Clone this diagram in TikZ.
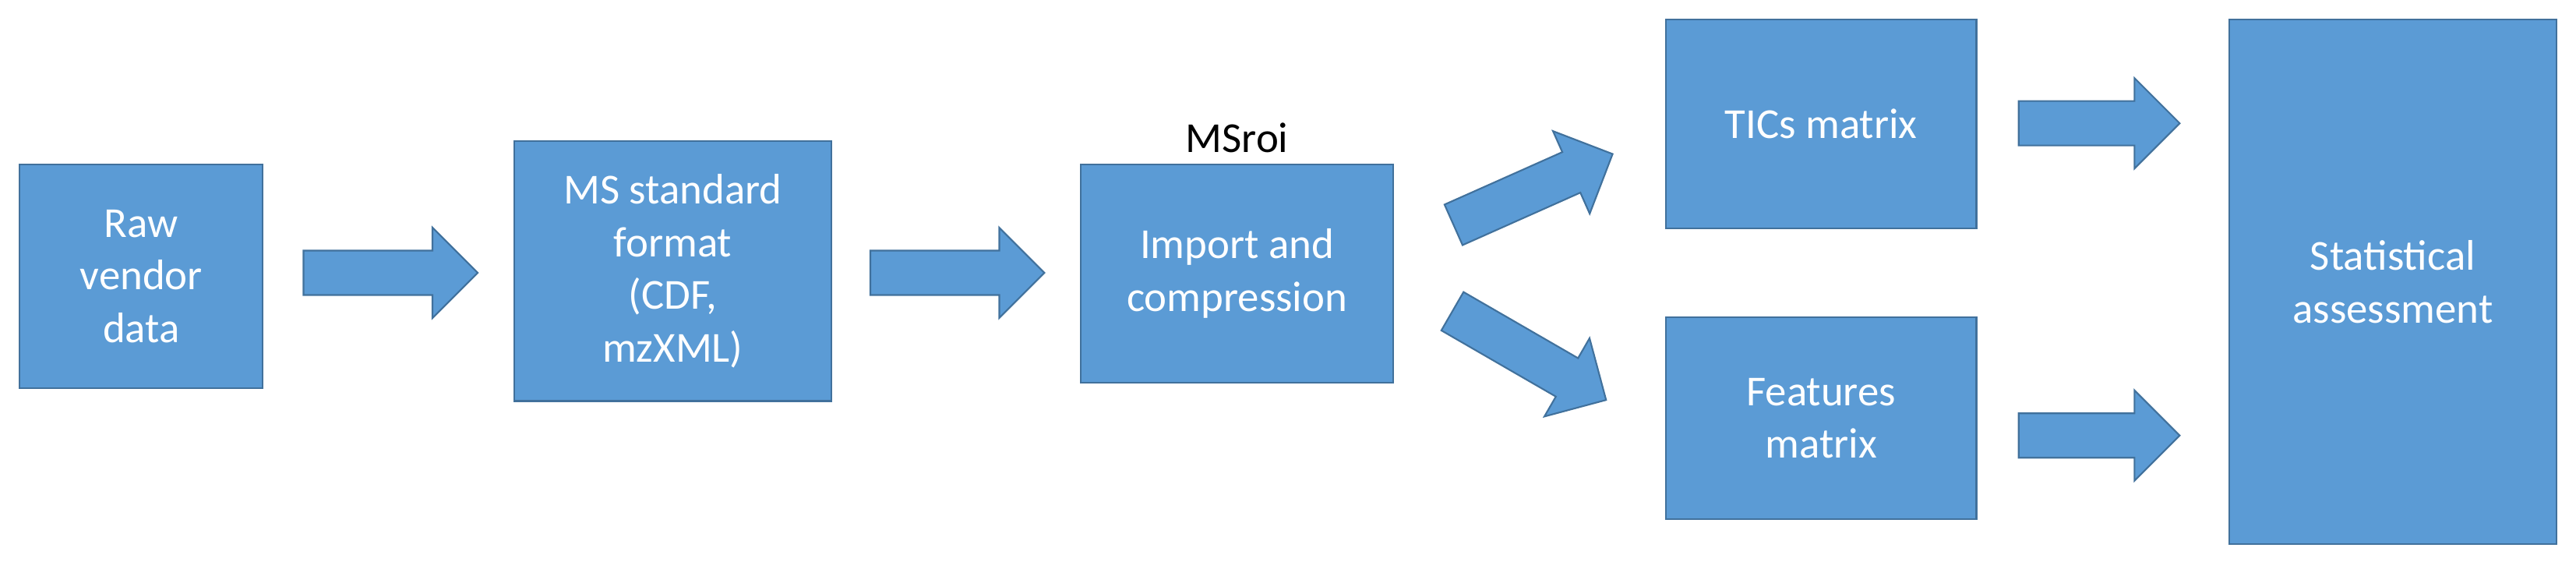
\documentclass[tikz,border=0pt]{standalone}
\usepackage{fontspec}
\setmainfont{Carlito}
\usetikzlibrary{shapes.arrows}
\definecolor{boxfill}{HTML}{5B9BD5}
\definecolor{boxline}{HTML}{41719C}
\tikzset{
  stage/.style={draw=boxline, fill=boxfill, line width=1pt, text=white, align=center,
    font=\fontsize{26}{32}\selectfont, inner sep=0pt},
  flow/.style={single arrow, draw=boxline, fill=boxfill, line width=1pt,
    inner xsep=0pt, inner ysep=13pt, single arrow head extend=14pt,
    single arrow head indent=0pt}
}
\begin{document}
\begin{tikzpicture}[x=1pt, y=-1pt]
\useasboundingbox (0,0) rectangle (1568,346);

\node[stage, minimum width=148, minimum height=136] (raw) at (86,168) {Raw\\vendor\\data};
\node[stage, minimum width=193, minimum height=158] (std) at (409.5,165) {MS standard\\format\\(CDF,\\mzXML)};
\node[stage, minimum width=190, minimum height=133] (imp) at (753,166.5) {Import and\\compression};
\node[font=\fontsize{26}{32}\selectfont, above=3pt] (roi) at (imp.north) {MSroi};
\node[stage, minimum width=189, minimum height=127] (tic) at (1108.5,75.5) {TICs matrix};
\node[stage, minimum width=189, minimum height=123] (feat) at (1108.5,254.5) {Features\\matrix};
\node[stage, minimum width=199, minimum height=319] (stat) at (1456.5,171.5) {Statistical\\assessment};

\node[flow, minimum height=106] (a1) at (231,166) {};
\node[flow, minimum height=106] (a2) at (576,166) {};
\node[flow, minimum height=106, rotate=24] (a3) at (927,118) {};
\node[flow, minimum height=108, rotate=-30] (a4) at (925,213) {};
\node[flow, minimum height=98] (a5) at (1271,75) {};
\node[flow, minimum height=98] (a6) at (1271,265) {};
\end{tikzpicture}
\end{document}
